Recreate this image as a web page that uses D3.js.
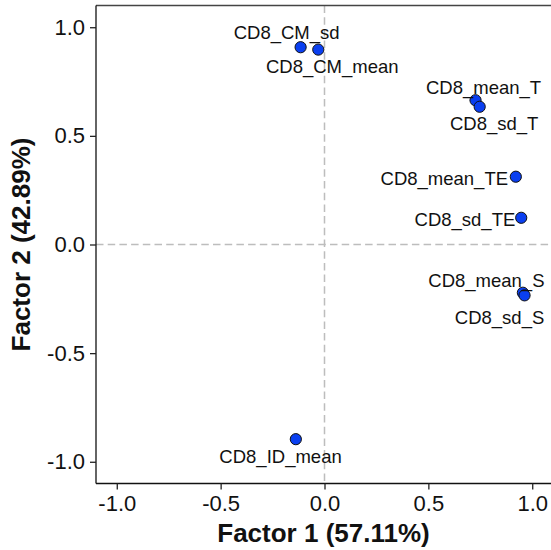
<!DOCTYPE html>
<html>
<head>
<meta charset="utf-8">
<script src="https://cdn.jsdelivr.net/npm/d3@7"></script>
<style>
  body { margin: 0; background: #fff; }
  svg { display: block; font-family: Arial, "Liberation Sans", sans-serif; }
</style>
</head>
<body>
<svg id="chart" width="551" height="550"></svg>
<script>
// factor loadings
const names = ["CD8_CM_sd", "CD8_CM_mean", "CD8_mean_T", "CD8_sd_T", "CD8_mean_TE",
               "CD8_sd_TE", "CD8_mean_S", "CD8_sd_S", "CD8_ID_mean"];
const factor1 = [-0.115, -0.030, 0.727, 0.747, 0.921, 0.947, 0.955, 0.963, -0.138];
const factor2 = [0.908, 0.897, 0.664, 0.634, 0.312, 0.123, -0.222, -0.234, -0.896];
// label placement (repel-style), pixel offsets from the point
const labelDx = [-14, 14, 8, 14.5, -71.5, -56.3, -36.5, -25, -15.3];
const labelDy = [-14.5, 16.7, -13.3, 16.3, 1.6, 2, -12.7, 22, 16.7];

const xTicks = [-1.0, -0.5, 0.0, 0.5, 1.0];
const yTicks = [-1.0, -0.5, 0.0, 0.5, 1.0];
const xTitle = "Factor 1 (57.11%)";
const yTitle = "Factor 2 (42.89%)";

const points = names.map((n, i) => ({ name: n, f1: factor1[i], f2: factor2[i], dx: labelDx[i], dy: labelDy[i] }));

const margin = { top: 5.5, left: 96 };
const panelW = 457, panelH = 478;

const svg = d3.select("#chart");
const g = svg.append("g").attr("transform", `translate(${margin.left},${margin.top})`);

const x = d3.scaleLinear().domain([-1.1, 1.1]).range([0, panelW]);
const y = d3.scaleLinear().domain([-1.1, 1.1]).range([panelH, 0]);

// reference lines at zero
g.append("line")
    .attr("x1", x(0)).attr("x2", x(0)).attr("y1", 0).attr("y2", panelH)
    .attr("stroke", "#bdbdbd").attr("stroke-width", 1.5).attr("stroke-dasharray", "7.5,4.2");
g.append("line")
    .attr("x1", 0).attr("x2", panelW).attr("y1", y(0)).attr("y2", y(0))
    .attr("stroke", "#bdbdbd").attr("stroke-width", 1.5).attr("stroke-dasharray", "7.5,4.2");

// top edge
g.append("line")
    .attr("x1", 0).attr("x2", panelW).attr("y1", 0).attr("y2", 0)
    .attr("stroke", "#444").attr("stroke-width", 1.3);

// plain hyphen for negatives, like the original
const fmt = d => d.toFixed(1);

const xAxis = g.append("g")
    .attr("transform", `translate(0,${panelH})`)
    .call(d3.axisBottom(x).tickValues(xTicks).tickFormat(fmt).tickSizeOuter(0).tickSize(6).tickPadding(6));
const yAxis = g.append("g")
    .call(d3.axisLeft(y).tickValues(yTicks).tickFormat(fmt).tickSizeOuter(0).tickSize(6).tickPadding(5));

[xAxis, yAxis].forEach(ax => {
    ax.select(".domain").attr("stroke", "#111").attr("stroke-width", 1.3);
    ax.selectAll(".tick line").attr("stroke", "#222").attr("stroke-width", 1.3);
    ax.selectAll(".tick text").attr("fill", "#111").style("font-size", "22px")
        .style("font-family", "Arial, 'Liberation Sans', sans-serif");
});
xAxis.select(".domain").attr("d", `M0,0H${panelW}`);
yAxis.select(".domain").attr("d", `M0,0V${panelH}`);

// points
g.selectAll("circle.pt")
    .data(points)
    .join("circle")
    .attr("class", "pt")
    .attr("cx", d => x(d.f1))
    .attr("cy", d => y(d.f2))
    .attr("r", 5.6)
    .attr("fill", "#0a3ff0")
    .attr("stroke", "#111")
    .attr("stroke-width", 1);

// labels
g.selectAll("text.lbl")
    .data(points)
    .join("text")
    .attr("class", "lbl")
    .attr("x", d => x(d.f1) + d.dx)
    .attr("y", d => y(d.f2) + d.dy)
    .attr("dy", "0.36em")
    .attr("text-anchor", "middle")
    .attr("fill", "#111")
    .style("font-size", "18.5px")
    .text(d => d.name);

// axis titles
svg.append("text")
    .attr("x", margin.left + panelW / 2 - 1)
    .attr("y", 541.5)
    .attr("text-anchor", "middle")
    .attr("font-weight", "bold")
    .attr("fill", "#111")
    .style("font-size", "26px")
    .text(xTitle);

svg.append("text")
    .attr("transform", `translate(30,${margin.top + panelH / 2}) rotate(-90)`)
    .attr("text-anchor", "middle")
    .attr("font-weight", "bold")
    .attr("fill", "#111")
    .style("font-size", "26px")
    .text(yTitle);
</script>
</body>
</html>
